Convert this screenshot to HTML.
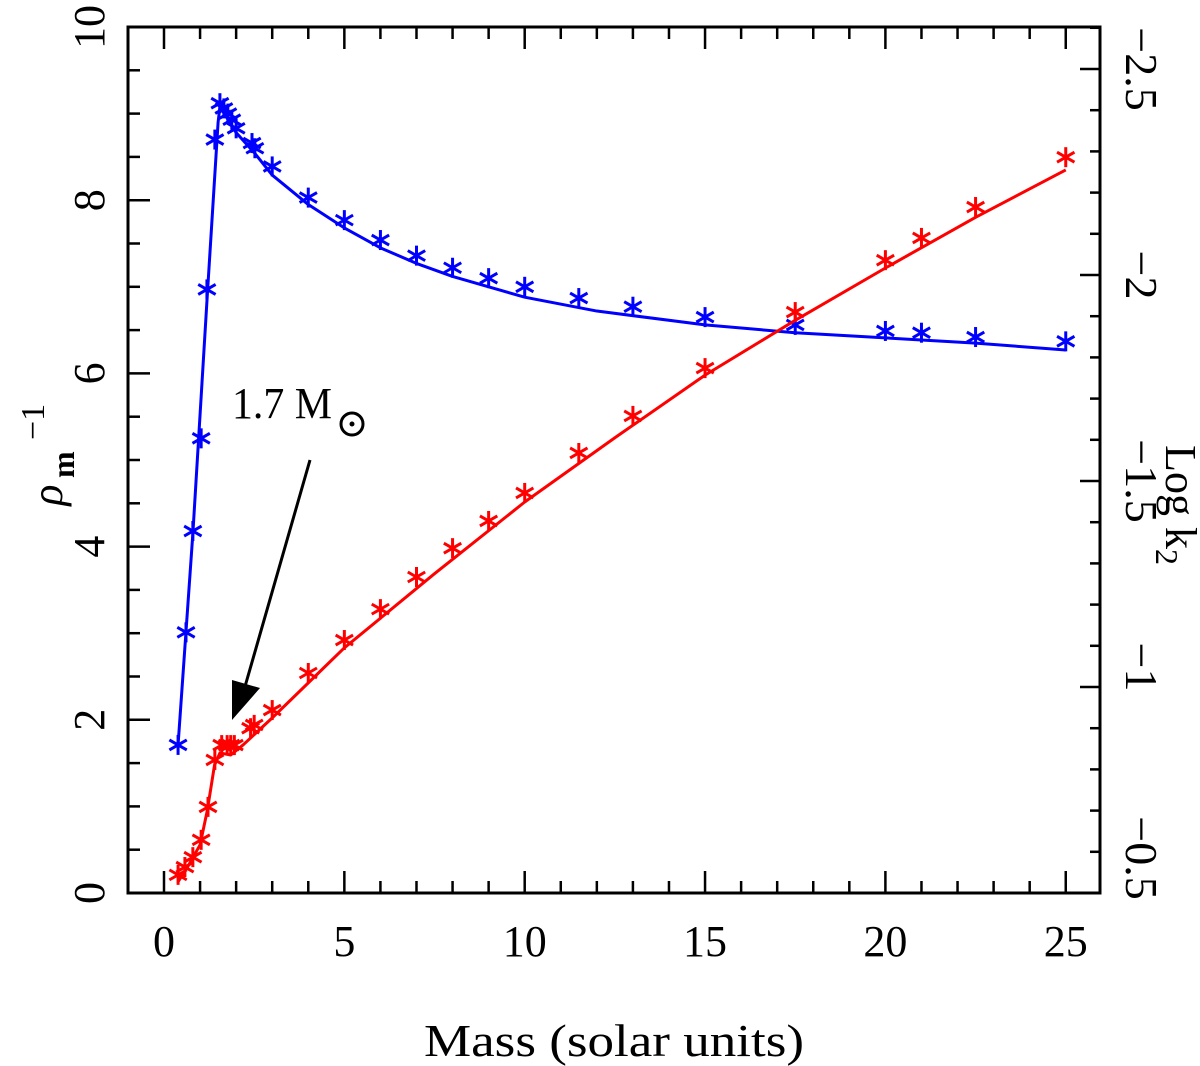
<!DOCTYPE html>
<html><head><meta charset="utf-8"><style>
html,body{margin:0;padding:0;background:#fff;}
svg{display:block;font-family:"Liberation Serif",serif;}
</style></head><body>
<svg id="chart" width="1200" height="1066" viewBox="0 0 1200 1066" xmlns="http://www.w3.org/2000/svg">
<g id="frame"></g>
<g id="ticks"></g>
<g id="series"></g>
<text x="614" y="1056" font-size="46" text-anchor="middle" textLength="380" lengthAdjust="spacingAndGlyphs">Mass (solar units)</text>
<g transform="translate(62,470) rotate(-90)">
<text font-size="44" text-anchor="middle" font-style="italic" x="-25" y="0">ρ</text>
<text font-size="32" font-weight="bold" x="-8" y="12">m</text>
<text font-size="34" x="30" y="-18">−1</text>
</g>
<g transform="translate(1166,505) rotate(90)">
<text font-size="44" text-anchor="middle" x="0" y="0">Log k<tspan font-size="32" dy="10">2</tspan></text>
</g>
<g>
<text x="232" y="418" font-size="44" textLength="100" lengthAdjust="spacingAndGlyphs">1.7 M</text>
<circle cx="352" cy="424" r="11" fill="none" stroke="#000" stroke-width="3"/>
<circle cx="352" cy="424" r="2.5" fill="#000"/>
<line x1="310" y1="460" x2="244" y2="690" stroke="#000" stroke-width="3"/>
<polygon points="232,720 232,680 260,688" fill="#000"/>
</g>
</svg>
<script>
// ---- data ----
const blueMass = [0.39,0.61,0.8,1.03,1.19,1.41,1.55,1.66,1.77,1.88,2.0,2.44,2.52,3,4,5,6,7,8,9,10,11.5,13,15,17.5,20,21,22.5,25];
const blueRho = [1.71,3.01,4.18,5.25,6.97,8.7,9.12,9.06,9.0,8.93,8.83,8.66,8.6,8.39,8.03,7.77,7.54,7.36,7.22,7.1,7.0,6.87,6.77,6.65,6.56,6.49,6.47,6.42,6.37];
const blueLineMass = [0.39,0.8,1.2,1.5,1.55,2.0,2.5,3,4,5,6,7,8,10,12,15,17.5,20,22.5,25];
const blueLineRho = [1.71,4.15,6.9,8.9,9.08,8.78,8.55,8.29,7.95,7.68,7.45,7.27,7.12,6.88,6.72,6.56,6.47,6.41,6.35,6.27];
const redMass = [0.39,0.58,0.8,1.03,1.22,1.41,1.6,1.75,1.85,1.95,2.4,2.5,3,4,5,6,7,8,9,10,11.5,13,15,17.5,20,21,22.5,25];
const redLogK2 = [-0.544,-0.563,-0.587,-0.629,-0.709,-0.823,-0.859,-0.859,-0.859,-0.859,-0.900,-0.908,-0.944,-1.034,-1.114,-1.189,-1.267,-1.337,-1.403,-1.471,-1.568,-1.658,-1.774,-1.910,-2.036,-2.090,-2.165,-2.286];
const redLineMass = [0.39,0.7,1.0,1.2,1.4,1.55,1.85,2.2,3,4,5,7.5,10,12.5,15,17.5,20,22.5,25];
const redLineLogK2 = [-0.527,-0.57,-0.617,-0.70,-0.81,-0.84,-0.835,-0.86,-0.925,-1.01,-1.095,-1.275,-1.449,-1.605,-1.757,-1.89,-2.017,-2.14,-2.255];
const xTicks = [0,5,10,15,20,25];
const yLeftTicks = [0,2,4,6,8,10];
const yRightTicks = [-0.5,-1,-1.5,-2,-2.5];

// ---- axes ----
const L=128,R=1100,T=27,B=893;
const X = m => 164 + m*36.07;
const YL = v => 893 - v*86.6;
const YR = v => 893 + (v+0.5)*412;
const NS="http://www.w3.org/2000/svg";
function mk(tag, attrs, parent){const e=document.createElementNS(NS,tag);for(const k in attrs)e.setAttribute(k,attrs[k]);parent.appendChild(e);return e;}
const frame=document.getElementById('frame'), ticks=document.getElementById('ticks'), series=document.getElementById('series');
const box=mk('rect',{x:L,y:T,width:R-L,height:B-T,fill:'none',stroke:'#000','stroke-width':3},frame);


// x ticks
for(let m=0;m<=25;m++){
  const maj=m%5===0, len=maj?22:12;
  mk('line',{x1:X(m),x2:X(m),y1:B,y2:B-len,stroke:'#000','stroke-width':2.5},ticks);
  mk('line',{x1:X(m),x2:X(m),y1:T,y2:T+len,stroke:'#000','stroke-width':2.5},ticks);
}
xTicks.forEach(t=>{const e=mk('text',{x:X(t),y:956,'font-size':44,'text-anchor':'middle'},ticks);e.textContent=t;

});
// left ticks
for(let v=0;v<=10.001;v+=0.5){
  const maj=Math.abs(v-Math.round(v/2)*2)<1e-6, len=maj?22:12;
  mk('line',{x1:L,x2:L+len,y1:YL(v),y2:YL(v),stroke:'#000','stroke-width':2.5},ticks);
}
yLeftTicks.forEach(t=>{const e=mk('text',{x:0,y:0,'font-size':44,'text-anchor':'middle',transform:`translate(104,${YL(t)}) rotate(-90)`},ticks);e.textContent=t;

});
// right ticks
for(let i=0;i<=21;i++){
  const v=-0.5-i*0.1; const y=YR(v); if(y<T-1)break;
  const maj=i%5===0, len=maj?20:10;
  mk('line',{x1:R,x2:R-len,y1:y,y2:y,stroke:'#000','stroke-width':2.5},ticks);
}
yRightTicks.forEach(t=>{const e=mk('text',{x:0,y:0,'font-size':46,'text-anchor':'middle',transform:`translate(1126,${YR(t)+ (t===-0.5?-35:(t===-1?-20:0))}) rotate(90)`},ticks);e.textContent=(t<0?'−':'')+Math.abs(t);

});

// ---- series ----
function line(xs,ys,fy,color,name){
  const p=mk('polyline',{points:xs.map((m,i)=>X(m)+','+fy(ys[i])).join(' '),fill:'none',stroke:color,'stroke-width':3,'stroke-linejoin':'round'},series);
  
  
}
function stars(xs,ys,fy,color,name){
  xs.forEach((m,i)=>{
    const cx=X(m), cy=fy(ys[i]), r=10;
    const g=mk('g',{stroke:color,'stroke-width':3},series);
    
    
    mk('line',{x1:cx,x2:cx,y1:cy-r,y2:cy+r},g);
    mk('line',{x1:cx-r*0.87,x2:cx+r*0.87,y1:cy-r*0.5,y2:cy+r*0.5},g);
    mk('line',{x1:cx-r*0.87,x2:cx+r*0.87,y1:cy+r*0.5,y2:cy-r*0.5},g);
  });
}
line(blueLineMass,blueLineRho,YL,'#0000ff','blue-model-line');
stars(blueMass,blueRho,YL,'#0000ff','blue-data-point');
line(redLineMass,redLineLogK2,YR,'#ff0000','red-model-line');
stars(redMass,redLogK2,YR,'#ff0000','red-data-point');
</script>
</body></html>
